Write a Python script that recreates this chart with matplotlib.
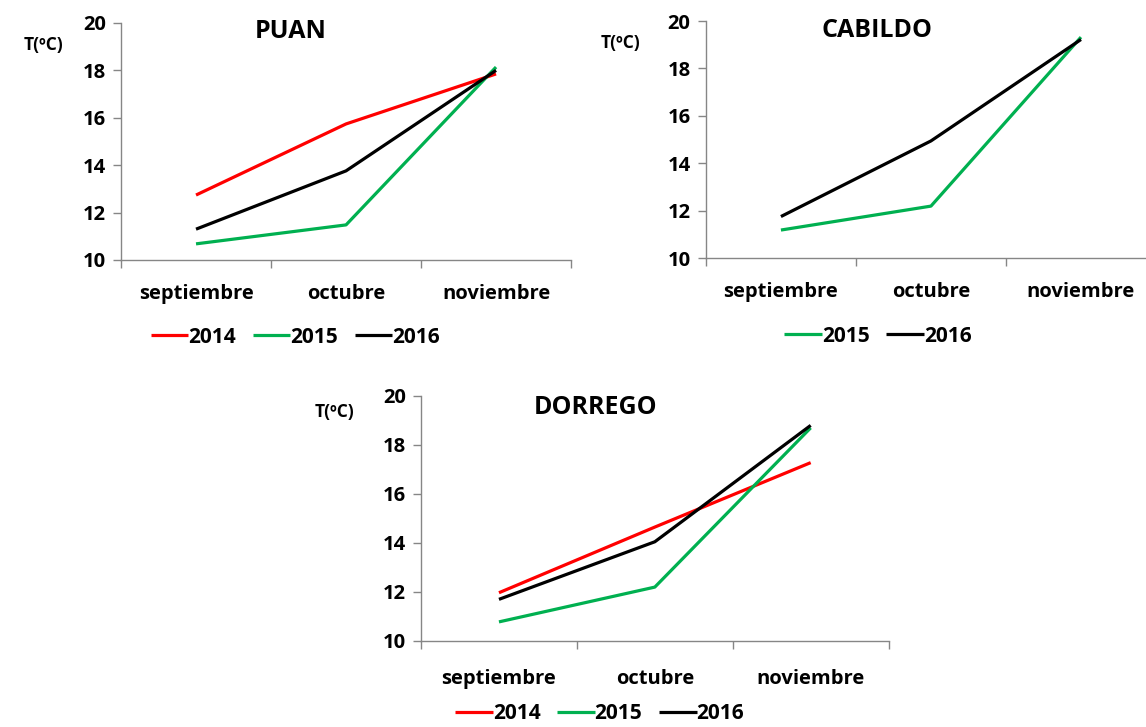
import matplotlib
matplotlib.use("Agg")
import matplotlib.pyplot as plt

plt.rcParams['font.family'] = ['Open Sans', 'DejaVu Sans']
plt.rcParams['font.weight'] = 'bold'

months = ["septiembre", "octubre", "noviembre"]
yticks = [10, 12, 14, 16, 18, 20]

puan_2014 = [12.74, 15.74, 17.85]
puan_2015 = [10.68, 11.48, 18.14]
puan_2016 = [11.3, 13.76, 18.0]

cabildo_2015 = [11.18, 12.19, 19.32]
cabildo_2016 = [11.75, 14.94, 19.22]

dorrego_2014 = [11.97, 14.65, 17.28]
dorrego_2015 = [10.78, 12.2, 18.7]
dorrego_2016 = [11.7, 14.05, 18.8]

colors = {"2014": "#FF0000", "2015": "#00B050", "2016": "#000000"}
spine_c = "#868686"

fig = plt.figure(figsize=(11.46, 7.27), dpi=100)

panels = [
    ("PUAN", [0.1056, 0.6424, 0.3927, 0.326], {"2014": puan_2014, "2015": puan_2015, "2016": puan_2016},
     (0.376, 0.962), (-0.173, 0.907), (0.387, -0.325), 17),
    ("CABILDO", [0.616, 0.6451, 0.3927, 0.326], {"2015": cabildo_2015, "2016": cabildo_2016},
     (0.38, 0.962), (-0.189, 0.907), (0.382, -0.33), 17),
    ("DORREGO", [0.3674, 0.1183, 0.408, 0.337], {"2014": dorrego_2014, "2015": dorrego_2015, "2016": dorrego_2016},
     (0.374, 0.955), (-0.186, 0.935), (0.382, -0.297), 20),
]

for title, rect, series, tpos, ypos, lpos, xpad in panels:
    ax = fig.add_axes(rect)
    x = list(range(len(months)))
    for name, vals in series.items():
        ax.plot(x, vals, color=colors[name], lw=2.3, label=name, solid_capstyle='butt')
    ax.set_xlim(-0.5, 2.5)
    ax.set_ylim(10, 20)
    ax.set_yticks(yticks)
    ax.set_yticklabels([str(v) for v in yticks], fontsize=14.5, fontweight='bold')
    ax.set_xticks([-0.5, 0.5, 1.5, 2.5])
    ax.set_xticklabels([])
    ax.set_xticks(x, minor=True)
    ax.set_xticklabels(months, minor=True, fontsize=14.5, fontweight='bold')
    ax.tick_params(axis='x', which='minor', length=0, pad=xpad)
    ax.tick_params(axis='x', which='major', length=6, color=spine_c, width=1)
    ax.tick_params(axis='y', length=6, color=spine_c, width=1, pad=5)
    for s in ["top", "right"]:
        ax.spines[s].set_visible(False)
    for s in ["left", "bottom"]:
        ax.spines[s].set_color(spine_c)
        ax.spines[s].set_linewidth(1)
    ax.text(tpos[0], tpos[1], title, transform=ax.transAxes, ha='center', va='center',
            fontsize=18, fontweight='bold')
    ax.text(ypos[0], ypos[1], "T(ºC)", transform=ax.transAxes, ha='center', va='center',
            fontsize=12.5, fontweight='bold')
    leg = ax.legend(loc='center', bbox_to_anchor=lpos, ncol=len(series), frameon=False,
                    handlelength=1.8, handletextpad=0.0, columnspacing=0.8,
                    prop={'weight': 'bold', 'size': 15})

fig.savefig("out.png", dpi=100)
